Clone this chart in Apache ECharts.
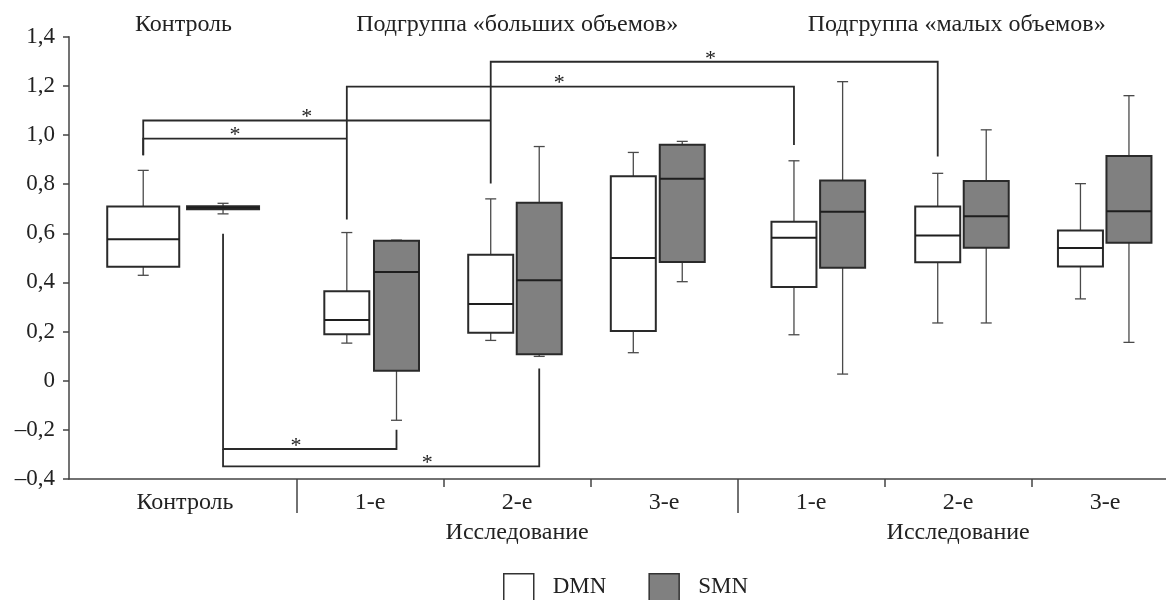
<!DOCTYPE html>
<html>
<head>
<meta charset="utf-8">
<script src="https://cdn.jsdelivr.net/npm/echarts@6/dist/echarts.min.js"></script>
<style>
html, body { margin: 0; padding: 0; background: #fff; }
#chart { width: 1166px; height: 600px; }
</style>
</head>
<body>
<div id="chart"></div>
<script>
// ось x: разделители групп стоят на 1..6
const groupLabels = ['Контроль', '1-е', '2-е', '3-е', '1-е', '2-е', '3-е']
const groupLabelPos = [0.24, 1.5, 2.5, 3.5, 4.5, 5.5, 6.5]
const longTicks = [1, 4]
const shortTicks = [2, 3, 5, 6]
const subgroupLabels = ['Контроль', 'Подгруппа «больших объемов»', 'Подгруппа «малых объемов»']
const subgroupPos = [0.23, 2.5, 5.49]
const studyLabel = 'Исследование'

// положение ящиков по x
const dmnPos = [-0.044, 1.341, 2.320, 3.290, 4.383, 5.361, 6.332]
const smnPos = [0.499, 1.679, 2.650, 3.623, 4.714, 5.691, 6.662]

// [min, Q1, median, Q3, max]
const dmnBoxes = [
    [0.429, 0.464, 0.576, 0.709, 0.856],
    [0.153, 0.189, 0.247, 0.364, 0.603],
    [0.164, 0.195, 0.312, 0.513, 0.740],
    [0.114, 0.202, 0.499, 0.832, 0.929],
    [0.187, 0.381, 0.582, 0.647, 0.895],
    [0.235, 0.482, 0.591, 0.709, 0.844],
    [0.333, 0.465, 0.540, 0.611, 0.802],
]
const smnBoxes = [
    [0.679, 0.698, 0.704, 0.710, 0.722],
    [-0.161, 0.041, 0.442, 0.570, 0.572],
    [0.099, 0.108, 0.409, 0.724, 0.953],
    [0.403, 0.483, 0.822, 0.960, 0.974],
    [0.027, 0.460, 0.688, 0.815, 1.217],
    [0.235, 0.541, 0.669, 0.813, 1.021],
    [0.156, 0.561, 0.690, 0.914, 1.160],
]

// скобки значимости
const bracketX1 = [-0.044, -0.044, 1.341, 2.320, 0.499, 0.499]
const bracketY1 = [0.918, 0.918, 0.656, 0.803, 0.598, -0.278]
const bracketX2 = [1.341, 2.320, 4.383, 5.361, 1.679, 2.650]
const bracketY2 = [0.985, 1.059, 0.959, 0.912, -0.200, 0.050]
const bracketLevel = [0.985, 1.059, 1.197, 1.298, -0.278, -0.349]
const starX = [0.580, 1.068, 2.786, 3.816, 0.995, 1.888]

const FONT = 'Liberation Serif'
const INK = '#222'
const xMin = -0.549
const xMax = 6.914

const chart = echarts.init(document.getElementById('chart'))

function boxRenderer(fill) {
    return function (params, api) {
        const x = api.value(0)
        const pMin = api.coord([x, api.value(1)])
        const pQ1 = api.coord([x, api.value(2)])
        const pMed = api.coord([x, api.value(3)])
        const pQ3 = api.coord([x, api.value(4)])
        const pMax = api.coord([x, api.value(5)])
        const cx = pMed[0]
        const w = params.dataIndex === 0 ? 72 : 45
        const cap = 5.5
        const whisker = { stroke: '#4a4a4a', lineWidth: 1.3 }
        return {
            type: 'group',
            children: [
                { type: 'line', shape: { x1: cx, y1: pMax[1], x2: cx, y2: pQ3[1] }, style: whisker },
                { type: 'line', shape: { x1: cx, y1: pMin[1], x2: cx, y2: pQ1[1] }, style: whisker },
                { type: 'line', shape: { x1: cx - cap, y1: pMax[1], x2: cx + cap, y2: pMax[1] }, style: whisker },
                { type: 'line', shape: { x1: cx - cap, y1: pMin[1], x2: cx + cap, y2: pMin[1] }, style: whisker },
                {
                    type: 'rect',
                    shape: { x: cx - w / 2, y: pQ3[1], width: w, height: pQ1[1] - pQ3[1] },
                    style: { fill: fill, stroke: '#2a2a2a', lineWidth: 2 },
                },
                {
                    type: 'line',
                    shape: { x1: cx - w / 2, y1: pMed[1], x2: cx + w / 2, y2: pMed[1] },
                    style: { stroke: '#1e1e1e', lineWidth: 2 },
                },
            ],
        }
    }
}

function renderBracket(params, api) {
    const a = api.coord([api.value(0), api.value(1)])
    const b = api.coord([api.value(0), api.value(4)])
    const c = api.coord([api.value(2), api.value(4)])
    const d = api.coord([api.value(2), api.value(3)])
    const s = api.coord([api.value(5), api.value(4)])
    return {
        type: 'group',
        children: [
            {
                type: 'polyline',
                shape: { points: [a, b, c, d] },
                style: { stroke: '#2a2a2a', lineWidth: 1.8, fill: null },
            },
            {
                type: 'text',
                x: s[0],
                y: s[1] - 3,
                style: {
                    text: '*',
                    fontSize: 22,
                    fontFamily: FONT,
                    fill: INK,
                    align: 'center',
                    verticalAlign: 'middle',
                },
            },
        ],
    }
}

const textStyle = { fontFamily: FONT, fontSize: 24, color: INK }

chart.setOption({
    animation: false,
    grid: { left: 69, right: 0, top: 36.7, bottom: 121, containLabel: false, outerBoundsMode: 'none' },
    legend: {
        left: 503,
        top: 573,
        padding: 0,
        itemGap: 42,
        itemWidth: 30,
        itemHeight: 27,
        icon: 'rect',
        selectedMode: false,
        textStyle: { fontFamily: FONT, fontSize: 23, color: INK, padding: [0, 0, 0, 14] },
        data: [
            { name: 'DMN', itemStyle: { color: '#ffffff', borderColor: '#333', borderWidth: 1.5 } },
            { name: 'SMN', itemStyle: { color: '#808080', borderColor: '#333', borderWidth: 1.5 } },
        ],
    },
    xAxis: [
        {
            type: 'value',
            min: xMin,
            max: xMax,
            position: 'bottom',
            splitLine: { show: false },
            axisLine: { show: true, onZero: false, lineStyle: { color: '#444', width: 1.5 } },
            axisTick: { show: true, customValues: shortTicks, length: 8, lineStyle: { color: '#444', width: 1.5 } },
            axisLabel: {
                customValues: groupLabelPos,
                margin: 9,
                lineHeight: 30,
                ...textStyle,
                formatter: function (v) {
                    const i = groupLabelPos.findIndex(p => Math.abs(p - v) < 1e-6)
                    if (i < 0) return ''
                    return (i === 2 || i === 5) ? groupLabels[i] + '\n' + studyLabel : groupLabels[i]
                },
            },
        },
        {
            type: 'value',
            min: xMin,
            max: xMax,
            position: 'bottom',
            splitLine: { show: false },
            axisLine: { show: false, onZero: false },
            axisTick: { show: true, customValues: longTicks, length: 34, lineStyle: { color: '#444', width: 1.5 } },
            axisLabel: { show: false },
        },
        {
            type: 'value',
            min: xMin,
            max: xMax,
            position: 'top',
            splitLine: { show: false },
            axisLine: { show: false, onZero: false },
            axisTick: { show: false },
            axisLabel: {
                customValues: subgroupPos,
                margin: 0,
                ...textStyle,
                formatter: function (v) {
                    const i = subgroupPos.findIndex(p => Math.abs(p - v) < 1e-6)
                    return i < 0 ? '' : subgroupLabels[i]
                },
            },
        },
    ],
    yAxis: {
        type: 'value',
        min: -0.4,
        max: 1.4,
        interval: 0.2,
        splitLine: { show: false },
        axisLine: { show: true, onZero: false, lineStyle: { color: '#444', width: 1.5 } },
        axisTick: { show: true, length: 6, lineStyle: { color: '#444', width: 1.5 } },
        axisLabel: {
            margin: 14,
            fontFamily: FONT,
            fontSize: 23,
            color: INK,
            formatter: function (v) {
                if (Math.abs(v) < 1e-9) return '0'
                return (v < 0 ? '–' : '') + Math.abs(v).toFixed(1).replace('.', ',')
            },
        },
    },
    series: [
        {
            name: 'DMN',
            type: 'custom',
            xAxisIndex: 0,
            renderItem: boxRenderer('#ffffff'),
            encode: { x: 0, y: [1, 2, 3, 4, 5] },
            data: dmnPos.map((x, i) => [x].concat(dmnBoxes[i])),
            z: 3,
        },
        {
            name: 'SMN',
            type: 'custom',
            xAxisIndex: 0,
            renderItem: boxRenderer('#808080'),
            encode: { x: 0, y: [1, 2, 3, 4, 5] },
            data: smnPos.map((x, i) => [x].concat(smnBoxes[i])),
            z: 3,
        },
        {
            name: 'brackets',
            type: 'custom',
            xAxisIndex: 0,
            renderItem: renderBracket,
            encode: { x: [0, 2, 5], y: [1, 3, 4] },
            data: bracketX1.map((x, i) => [x, bracketY1[i], bracketX2[i], bracketY2[i], bracketLevel[i], starX[i]]),
            z: 2,
        },
    ],
})
</script>
</body>
</html>
